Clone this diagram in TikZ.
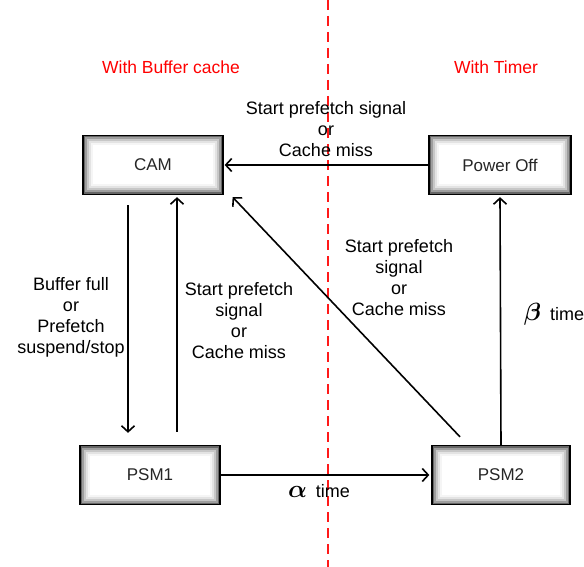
\documentclass[tikz,border=0pt]{standalone}
\usepackage{amsmath}
\usepackage{fontspec}
\setmainfont{Liberation Sans}
\usetikzlibrary{arrows.meta}

\newcommand{\greekbig}[1]{{\fontsize{23}{23}\selectfont$\boldsymbol{#1}$}}

\tikzset{
  state/.style={draw=black,line width=1.3pt,fill=white,
    minimum width=140pt,minimum height=59pt,
    font=\fontsize{17}{19}\selectfont,text=black!85,
    path picture={
      \foreach \k/\c in {1/60,3/38,5/22,7/11,9/4}{
        \draw[line width=2pt,black!\c]
          ([shift={(\k pt,-\k pt)}]path picture bounding box.north west) rectangle
          ([shift={(-\k pt,\k pt)}]path picture bounding box.south east);}}},
  cond/.style={align=center,font=\fontsize{18}{21}\selectfont},
  side/.style={text=red,font=\fontsize{17.5}{20}\selectfont},
}

\begin{document}
\begin{tikzpicture}[x=1pt,y=-1pt,>={Straight Barb[length=6pt,width=13pt]},line width=1.6pt]
\useasboundingbox (0,0) rectangle (584,567);
% divider between the two policies
\draw[red!90,line width=2pt,dash pattern=on 10pt off 6pt] (328,0) -- (328,567);
\node[side] (lbuf) at (171,67) {With Buffer cache};
\node[side] (ltim) at (496,67) {With Timer};
% states
\node[state] (cam) at (153,165) {CAM};
\node[state,minimum width=142pt] (poweroff) at (500,165) {Power Off};
\node[state] (psm1) at (150,475) {PSM1};
\node[state,minimum width=138pt] (psm2) at (501,475) {PSM2};
% transitions
\draw[->] ([xshift=-25pt,yshift=-10pt]cam.south) -- ([xshift=-22pt,yshift=12pt]psm1.north);
\draw[->] ([xshift=27pt,yshift=13pt]psm1.north) -- ([xshift=24pt,yshift=-2pt]cam.south);
\draw[->] (poweroff.west) -- ([xshift=1pt]cam.east);
\draw[->] ([xshift=-41pt,yshift=8pt]psm2.north) -- ([xshift=9pt,yshift=-2pt]cam.south east);
\draw[->] (psm2.north) -- ([yshift=-2pt]poweroff.south);
\draw[->] (psm1.east) -- ([xshift=-2pt]psm2.west);
% labels
\node[cond] (ctop) at (326,129) {Start prefetch signal\\or\\Cache miss};
\node[cond] (cdown) at (71,317) {Buffer full\\or\\Prefetch\\suspend/stop};
\node[cond] (cup) at (239,321) {Start prefetch\\signal\\or\\Cache miss};
\node[cond] (cdiag) at (399,278) {Start prefetch\\signal\\or\\Cache miss};
\node[cond] (cbeta) at (554,314) {\greekbig{\beta}\enspace time};
\node[cond] (calpha) at (319,491) {\greekbig{\alpha}\enspace time};
\end{tikzpicture}
\end{document}
